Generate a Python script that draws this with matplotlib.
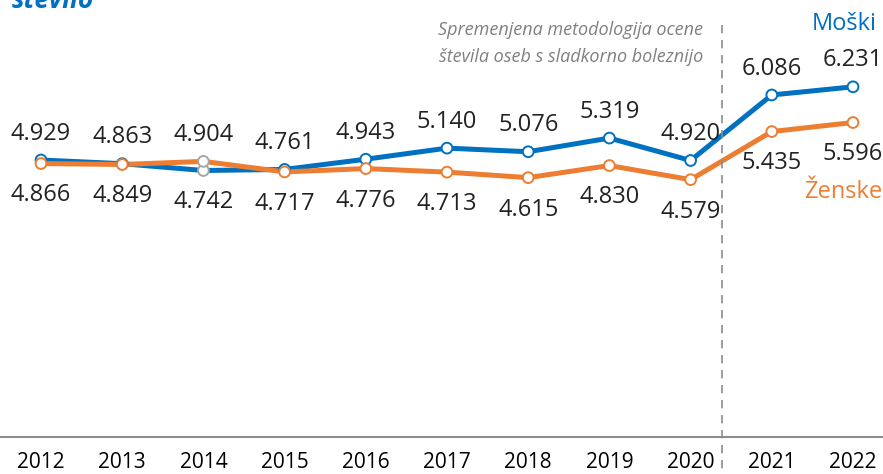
import matplotlib
matplotlib.use("Agg")
import matplotlib.pyplot as plt

years = [2012, 2013, 2014, 2015, 2016, 2017, 2018, 2019, 2020, 2021, 2022]
moski = [4.929, 4.863, 4.742, 4.761, 4.943, 5.140, 5.076, 5.319, 4.920, 6.086, 6.231]
zenske = [4.866, 4.849, 4.904, 4.717, 4.776, 4.713, 4.615, 4.830, 4.579, 5.435, 5.596]
tick_labels = [str(y) for y in years]

BLUE = "#0070C0"
ORANGE = "#ED7D31"
GRAY = "#808080"
FONT = ["Open Sans", "DejaVu Sans"]
plt.rcParams['font.family'] = FONT

W, H = 883, 474
fig = plt.figure(figsize=(W / 100, H / 100), dpi=100)
axis_y = 437
ax = fig.add_axes([0, 1 - axis_y / H, 1, axis_y / H])
px_per_year = 81.2
ax.set_xlim(2012 - 41 / px_per_year, 2022 + (W - 853) / px_per_year)
ax.set_ylim(0, axis_y / 56.2)
for s in ax.spines.values():
    s.set_visible(False)
ax.set_yticks([])
ax.set_xticks(years)
ax.set_xticklabels(tick_labels, fontsize=15)
ax.tick_params(axis='x', length=0, pad=11)
ax.axhline(0, color="#8C8C8C", lw=1.5, clip_on=False)

def marker_edges(color):
    return [("#A6A6A6" if y == 2014 else color) for y in years]

ax.plot(years, moski, color=BLUE, lw=3.6, zorder=3, solid_capstyle='round')
ax.plot(years, zenske, color=ORANGE, lw=3.6, zorder=4, solid_capstyle='round')
ax.scatter(years, moski, s=60, facecolor="white", edgecolor=marker_edges(BLUE), linewidths=1.4, zorder=5)
ax.scatter(years, zenske, s=60, facecolor="white", edgecolor=marker_edges(ORANGE), linewidths=1.4, zorder=6)

def fmt(v):
    return f"{v:.3f}"

for x, m, z in zip(years, moski, zenske):
    hi, lo = max(m, z), min(m, z)
    ax.annotate(fmt(hi), (x, hi), xytext=(0, 19), textcoords="offset points",
                ha="center", va="center", fontsize=17, color="#222222")
    ax.annotate(fmt(lo), (x, lo), xytext=(0, -23), textcoords="offset points",
                ha="center", va="center", fontsize=17, color="#222222")

# methodology change line
fig.add_artist(plt.Line2D([722 / W, 722 / W], [1 - 25 / H, 0], color="#8C8C8C",
                          lw=1.2, ls=(0, (5, 4))))
fig.text(703 / W, 1 - 30 / H, "Spremenjena metodologija ocene", ha="right", va="center",
         fontsize=13, style="italic", color=GRAY)
fig.text(703 / W, 1 - 57 / H, "števila oseb s sladkorno boleznijo", ha="right", va="center",
         fontsize=13, style="italic", color=GRAY)

fig.text(877 / W, 1 - 24 / H, "Moški", ha="right", va="center", fontsize=17, color=BLUE)
fig.text(882 / W, 1 - 192 / H, "Ženske", ha="right", va="center", fontsize=17, color=ORANGE)
fig.text(12 / W, 1 - 1 / H, "število", ha="left", va="center", fontsize=19,
         style="italic", weight="bold", color=BLUE)

fig.savefig("out.png", dpi=100)
